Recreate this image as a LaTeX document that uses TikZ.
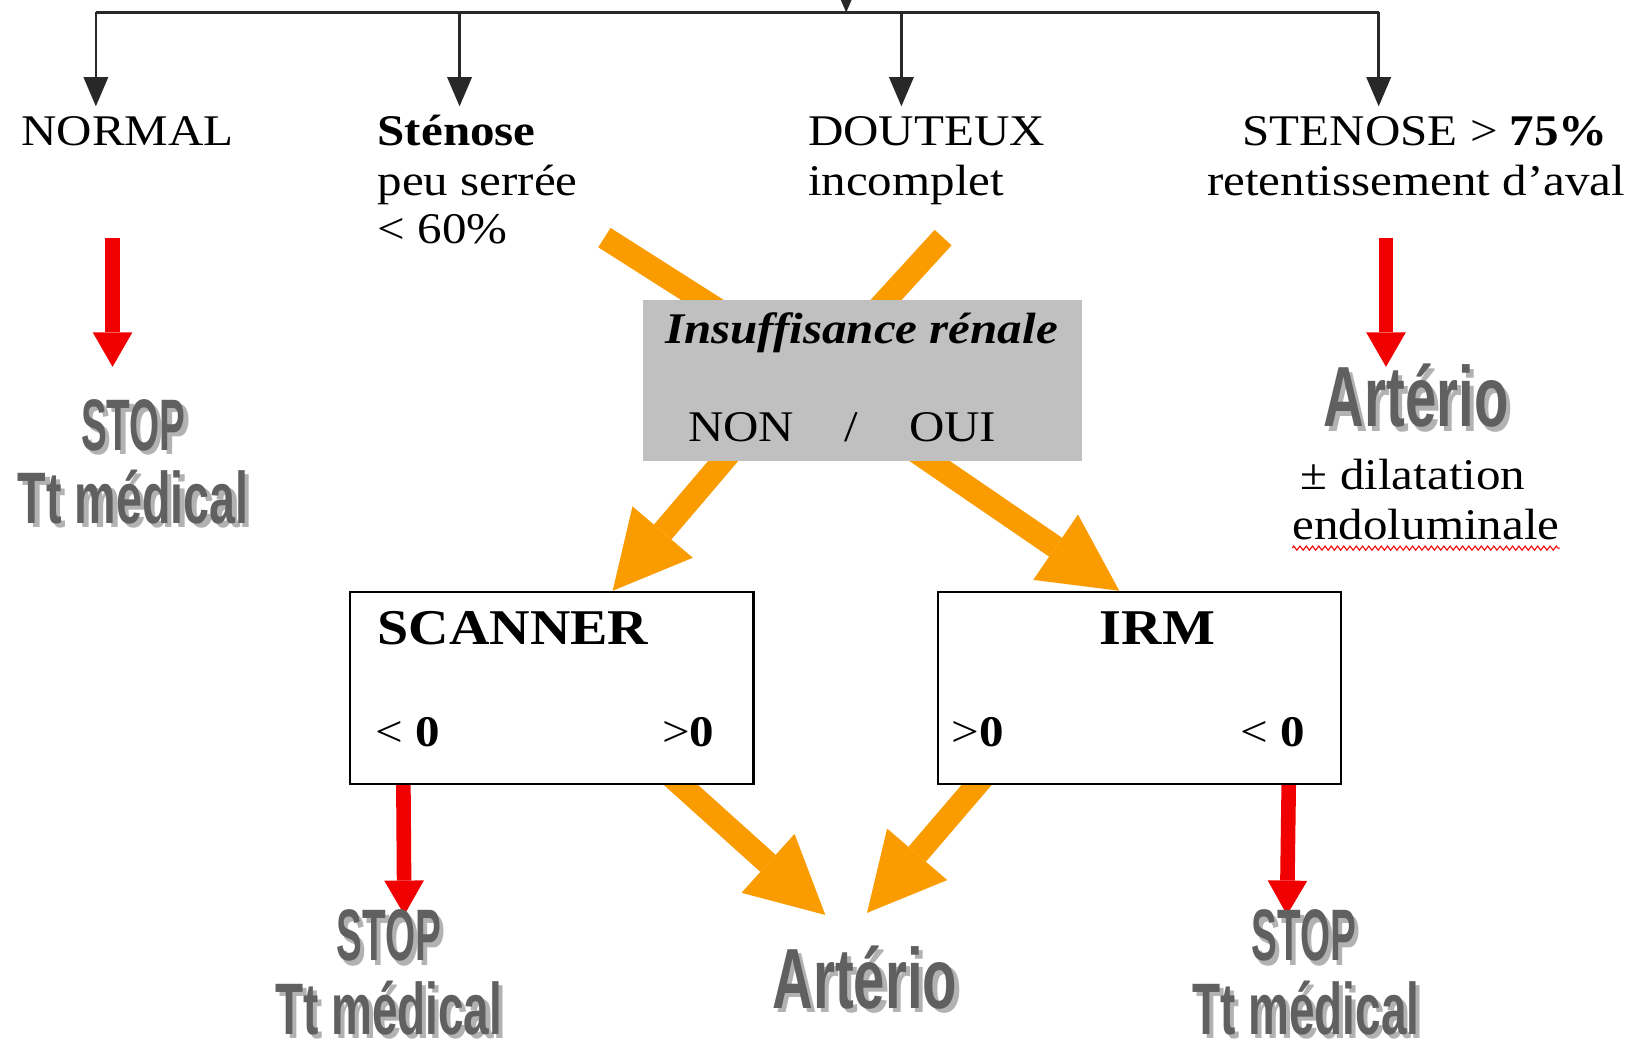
\documentclass[tikz,border=0pt]{standalone}
\usepackage{fontspec}
\setmainfont{Liberation Serif}[FakeStretch=1.12]
\setsansfont{Liberation Sans}
\usetikzlibrary{arrows.meta,calc,decorations.pathmorphing}
\definecolor{arrorange}{RGB}{250,155,0}
\definecolor{arrred}{RGB}{240,0,0}
\definecolor{boxgray}{RGB}{192,192,192}
\definecolor{wafill}{RGB}{96,96,96}
\definecolor{washadow}{RGB}{178,178,178}
\definecolor{linegray}{RGB}{40,40,40}
\pgfdeclarelayer{bg}
\pgfsetlayers{bg,main}
\newcommand{\wordart}[5]{%
  \node[wa,font=\sffamily\bfseries\fontsize{#5}{#5}\selectfont] (#1) at (#2)
    {\rlap{\kern2pt\raisebox{-2pt}{\textcolor{washadow}{\scalebox{#3}[1]{#4}}}}\scalebox{#3}[1]{#4}};}
\begin{document}
\begin{tikzpicture}[x=0.5pt,y=-0.5pt,
  txt/.style={anchor=base west,inner sep=0pt,font=\fontsize{21}{25}\selectfont},
  txtb/.style={anchor=base west,inner sep=0pt,font=\fontsize{24}{28}\selectfont\bfseries},
  blackline/.style={draw=linegray,line width=1.3pt},
  blackarr/.style={draw=linegray,line width=1.3pt,-{Triangle[width=12pt,length=14pt,line width=0pt]}},
  redarr/.style={draw=arrred,line width=7pt,-{Triangle[width=19pt,length=16.5pt,line width=0pt]}},
  orangearr/.style={draw=arrorange,line width=11pt,-{Triangle[width=38pt,length=37pt,line width=0pt]}},
  orangeline/.style={draw=arrorange,line width=11pt},
  graybox/.style={fill=boxgray,draw=none,minimum width=210.5pt,minimum height=77pt,inner sep=0pt},
  whitebox/.style={fill=white,draw=black,line width=1.1pt,minimum width=193.5pt,minimum height=92pt,inner sep=0pt},
  wa/.style={text=wafill,inner sep=0pt,anchor=center}]
\useasboundingbox (0,0) rectangle (1568,1010);

% ---- top distribution tree ----
\coordinate (src) at (812,-40);
\coordinate (bar) at (812,12);
\coordinate (barL) at (92,12);
\coordinate (barR) at (1323,12);
\coordinate (b2) at (441,12);
\coordinate (b3) at (865,12);
\coordinate (t1) at (92,102);
\coordinate (t2) at (441,102);
\coordinate (t3) at (865,102);
\coordinate (t4) at (1323,102);
\draw[blackline] (barL) -- (barR);
\draw[blackarr] (src) -- (bar);
\draw[blackarr] (barL) -- (t1);
\draw[blackarr] (b2) -- (t2);
\draw[blackarr] (b3) -- (t3);
\draw[blackarr] (barR) -- (t4);

% ---- headings ----
\node[txt] (normal) at (20,140) {NORMAL};
\node[txt] (sten) at (362,140) {\bfseries Sténose};
\node[txt] (sten2) at (362,188) {peu serrée};
\node[txt] (sten3) at (362,234) {< 60\%};
\node[txt] (dout) at (775,140) {DOUTEUX};
\node[txt] (dout2) at (775,188) {incomplet};
\node[txt] (st75) at (1192,140) {STENOSE > \textbf{75\%}};
\node[txt] (ret) at (1158,188) {retentissement d’aval};

% ---- boxes ----
\node[graybox] (ir) at (827.5,365) {};
\node[txt,font=\fontsize{21}{25}\selectfont\bfseries\itshape] (irt) at (638,330) {Insuffisance rénale};
\node[txt] (non) at (660,424) {NON};
\node[txt] (sl) at (810,424) {/};
\node[txt] (oui) at (872,424) {OUI};

\node[whitebox] (scan) at (529.5,660) {};
\node[txtb] (scant) at (362,618) {SCANNER};
\node[txt] (s1) at (360,716) {< \textbf{0}};
\node[txt] (s2) at (635,716) {>\textbf{0}};

\node[whitebox] (irm) at (1093.5,660) {};
\node[txtb] (irmt) at (1055,618) {IRM};
\node[txt] (i1) at (913,716) {>\textbf{0}};
\node[txt] (i2) at (1190,716) {< \textbf{0}};

% ---- word-art results ----
\coordinate (pA) at (128,410);
\coordinate (pA2) at (128,479);
\coordinate (pR) at (1359,382);
\coordinate (pB) at (373,900);
\coordinate (pB2) at (373,969);
\coordinate (pM) at (830,940);
\coordinate (pC) at (1251,900);
\coordinate (pC2) at (1253,969);
\wordart{stopA}{pA}{0.53}{STOP}{35}
\wordart{ttA}{pA2}{0.64}{Tt médical}{35}
\wordart{artR}{pR}{0.66}{Artério}{41}
\wordart{stopB}{pB}{0.53}{STOP}{35}
\wordart{ttB}{pB2}{0.63}{Tt médical}{35}
\wordart{artB}{pM}{0.66}{Artério}{41}
\wordart{stopC}{pC}{0.53}{STOP}{35}
\wordart{ttC}{pC2}{0.63}{Tt médical}{35}

% ---- right column text ----
\node[txt] (dil) at (1248,470) {± dilatation};
\node[txt] (endo) at (1240,518) {endoluminale};
\draw[arrred,line width=0.5pt,decorate,decoration={zigzag,amplitude=1pt,segment length=3pt}]
  ($(endo.base west)+(0,8)$) -- ($(endo.base east)+(0,8)$);

% ---- connectors behind boxes ----
\begin{pgfonlayer}{bg}
\coordinate (o1s) at (580,228);
\coordinate (o2s) at (905,228);
\draw[orangeline] (o1s) -- ($(ir.north)+(-135,12)$);
\draw[orangeline] (o2s) -- ($(ir.north)+(12,12)$);
\draw[orangearr] ($(ir.south)+(-125,-10)$) -- ($(scan.north west)!0.65!(scan.north east)$);
\draw[orangearr] ($(ir.south)+(50,-10)$) -- ($(irm.north west)!0.45!(irm.north east)$);
\draw[orangearr] ($(scan.south west)!0.81!(scan.south east)+(-8,-10)$) -- ($(artB.center)+(-38,-62)$);
\draw[orangearr] ($(irm.south west)!0.1!(irm.south east)+(8,-10)$) -- ($(artB.center)+(2,-64)$);
\draw[redarr] ($(scan.south west)!0.134!(scan.south east)+(0,-4)$) -- ($(stopB.center)+(15,-22)$);
\draw[redarr] ($(irm.south west)!0.868!(irm.south east)+(0,-4)$) -- ($(stopC.center)+(-16,-22)$);
\coordinate (rA) at (108,228);
\coordinate (rR) at (1330,228);
\draw[redarr] (rA) -- ($(stopA.center)+(-20,-58)$);
\draw[redarr] (rR) -- ($(artR.center)+(-29,-30)$);
\end{pgfonlayer}
\end{tikzpicture}
\end{document}
